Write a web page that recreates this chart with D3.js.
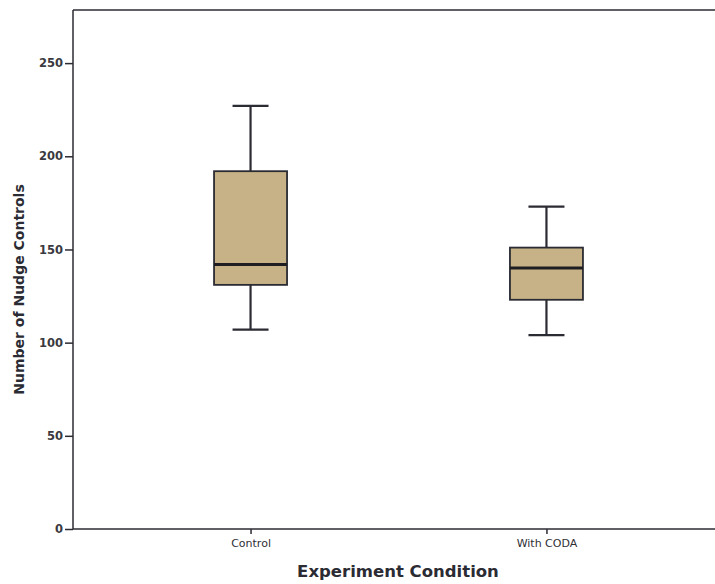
<!DOCTYPE html>
<html>
<head>
<meta charset="utf-8">
<script src="https://cdn.jsdelivr.net/npm/d3@7"></script>
<style>
  html, body { margin: 0; padding: 0; background: #fff; }
  svg { display: block; }
</style>
</head>
<body>
<svg id="chart" width="715" height="584"></svg>
<script>
// Box-plot summaries per condition
const categories = ["Control", "With CODA"];
const whiskerLow  = [107, 104];
const q1          = [131, 123];
const median      = [142, 140];
const q3          = [192, 151];
const whiskerHigh = [227, 173];
const yTicks      = [0, 50, 100, 150, 200, 250];

const svg = d3.select("#chart");
const plotLeft = 73, plotTop = 10, plotBottom = 529, plotRight = 724;

const y = d3.scaleLinear().domain([0, 278.5]).range([plotBottom, plotTop]);
const x = d3.scalePoint().domain(categories).range([plotLeft, plotRight]).padding(0.6);

const boxW = 73, capW = 36;
const ink = "#2b2b33";
const font = "DejaVu Sans, sans-serif";

// Frame: top and bottom rules run to the right edge
svg.append("line").attr("x1", plotLeft).attr("x2", 715).attr("y1", plotTop).attr("y2", plotTop)
  .attr("stroke", ink).attr("stroke-width", 1.5);

// Y axis
const yAxis = svg.append("g").attr("transform", `translate(${plotLeft},0)`)
  .call(d3.axisLeft(y).tickValues(yTicks).tickSize(8).tickPadding(2));
yAxis.select(".domain").attr("d", `M0,${plotTop}V${plotBottom}`).attr("stroke", ink).attr("stroke-width", 1.5);
yAxis.selectAll(".tick line").attr("stroke", ink).attr("stroke-width", 1.5);
yAxis.selectAll(".tick text").attr("fill", "#3a3a40").style("font-family", font)
  .style("font-size", "11.5px").style("font-weight", "600");

// X axis
const xAxis = svg.append("g").attr("transform", `translate(0,${plotBottom})`)
  .call(d3.axisBottom(x).tickSize(5).tickPadding(5));
xAxis.select(".domain").attr("d", `M${plotLeft},0H715`).attr("stroke", ink).attr("stroke-width", 1.5);
xAxis.selectAll(".tick line").attr("stroke", ink).attr("stroke-width", 1.5);
xAxis.selectAll(".tick text").attr("fill", "#2f2f35").style("font-family", font)
  .style("font-size", "11px");

// Boxes
const rows = categories.map((c, i) => ({
  c, lo: whiskerLow[i], q1: q1[i], med: median[i], q3: q3[i], hi: whiskerHigh[i]
}));

const g = svg.append("g").selectAll("g").data(rows).join("g")
  .attr("transform", d => `translate(${x(d.c)},0)`);

g.append("line").attr("x1", 0).attr("x2", 0)
  .attr("y1", d => y(d.hi)).attr("y2", d => y(d.q3))
  .attr("stroke", ink).attr("stroke-width", 2.2);
g.append("line").attr("x1", 0).attr("x2", 0)
  .attr("y1", d => y(d.q1)).attr("y2", d => y(d.lo))
  .attr("stroke", ink).attr("stroke-width", 2.2);
g.append("line").attr("x1", -capW / 2).attr("x2", capW / 2)
  .attr("y1", d => y(d.hi)).attr("y2", d => y(d.hi))
  .attr("stroke", ink).attr("stroke-width", 2.2);
g.append("line").attr("x1", -capW / 2).attr("x2", capW / 2)
  .attr("y1", d => y(d.lo)).attr("y2", d => y(d.lo))
  .attr("stroke", ink).attr("stroke-width", 2.2);
g.append("rect")
  .attr("x", -boxW / 2).attr("width", boxW)
  .attr("y", d => y(d.q3)).attr("height", d => y(d.q1) - y(d.q3))
  .attr("fill", "#c6b286").attr("stroke", ink).attr("stroke-width", 1.8);
g.append("line").attr("x1", -boxW / 2).attr("x2", boxW / 2)
  .attr("y1", d => y(d.med)).attr("y2", d => y(d.med))
  .attr("stroke", "#1e1e22").attr("stroke-width", 3);

// Axis titles
svg.append("text")
  .attr("transform", `translate(24,${(plotTop + plotBottom) / 2 + 20}) rotate(-90)`)
  .attr("text-anchor", "middle")
  .style("font-family", font).style("font-weight", "bold")
  .style("font-size", "14px").attr("fill", ink)
  .text("Number of Nudge Controls");

svg.append("text")
  .attr("x", 398).attr("y", 577)
  .attr("text-anchor", "middle")
  .style("font-family", font).style("font-weight", "bold")
  .style("font-size", "16.5px").attr("fill", ink)
  .text("Experiment Condition");
</script>
</body>
</html>
